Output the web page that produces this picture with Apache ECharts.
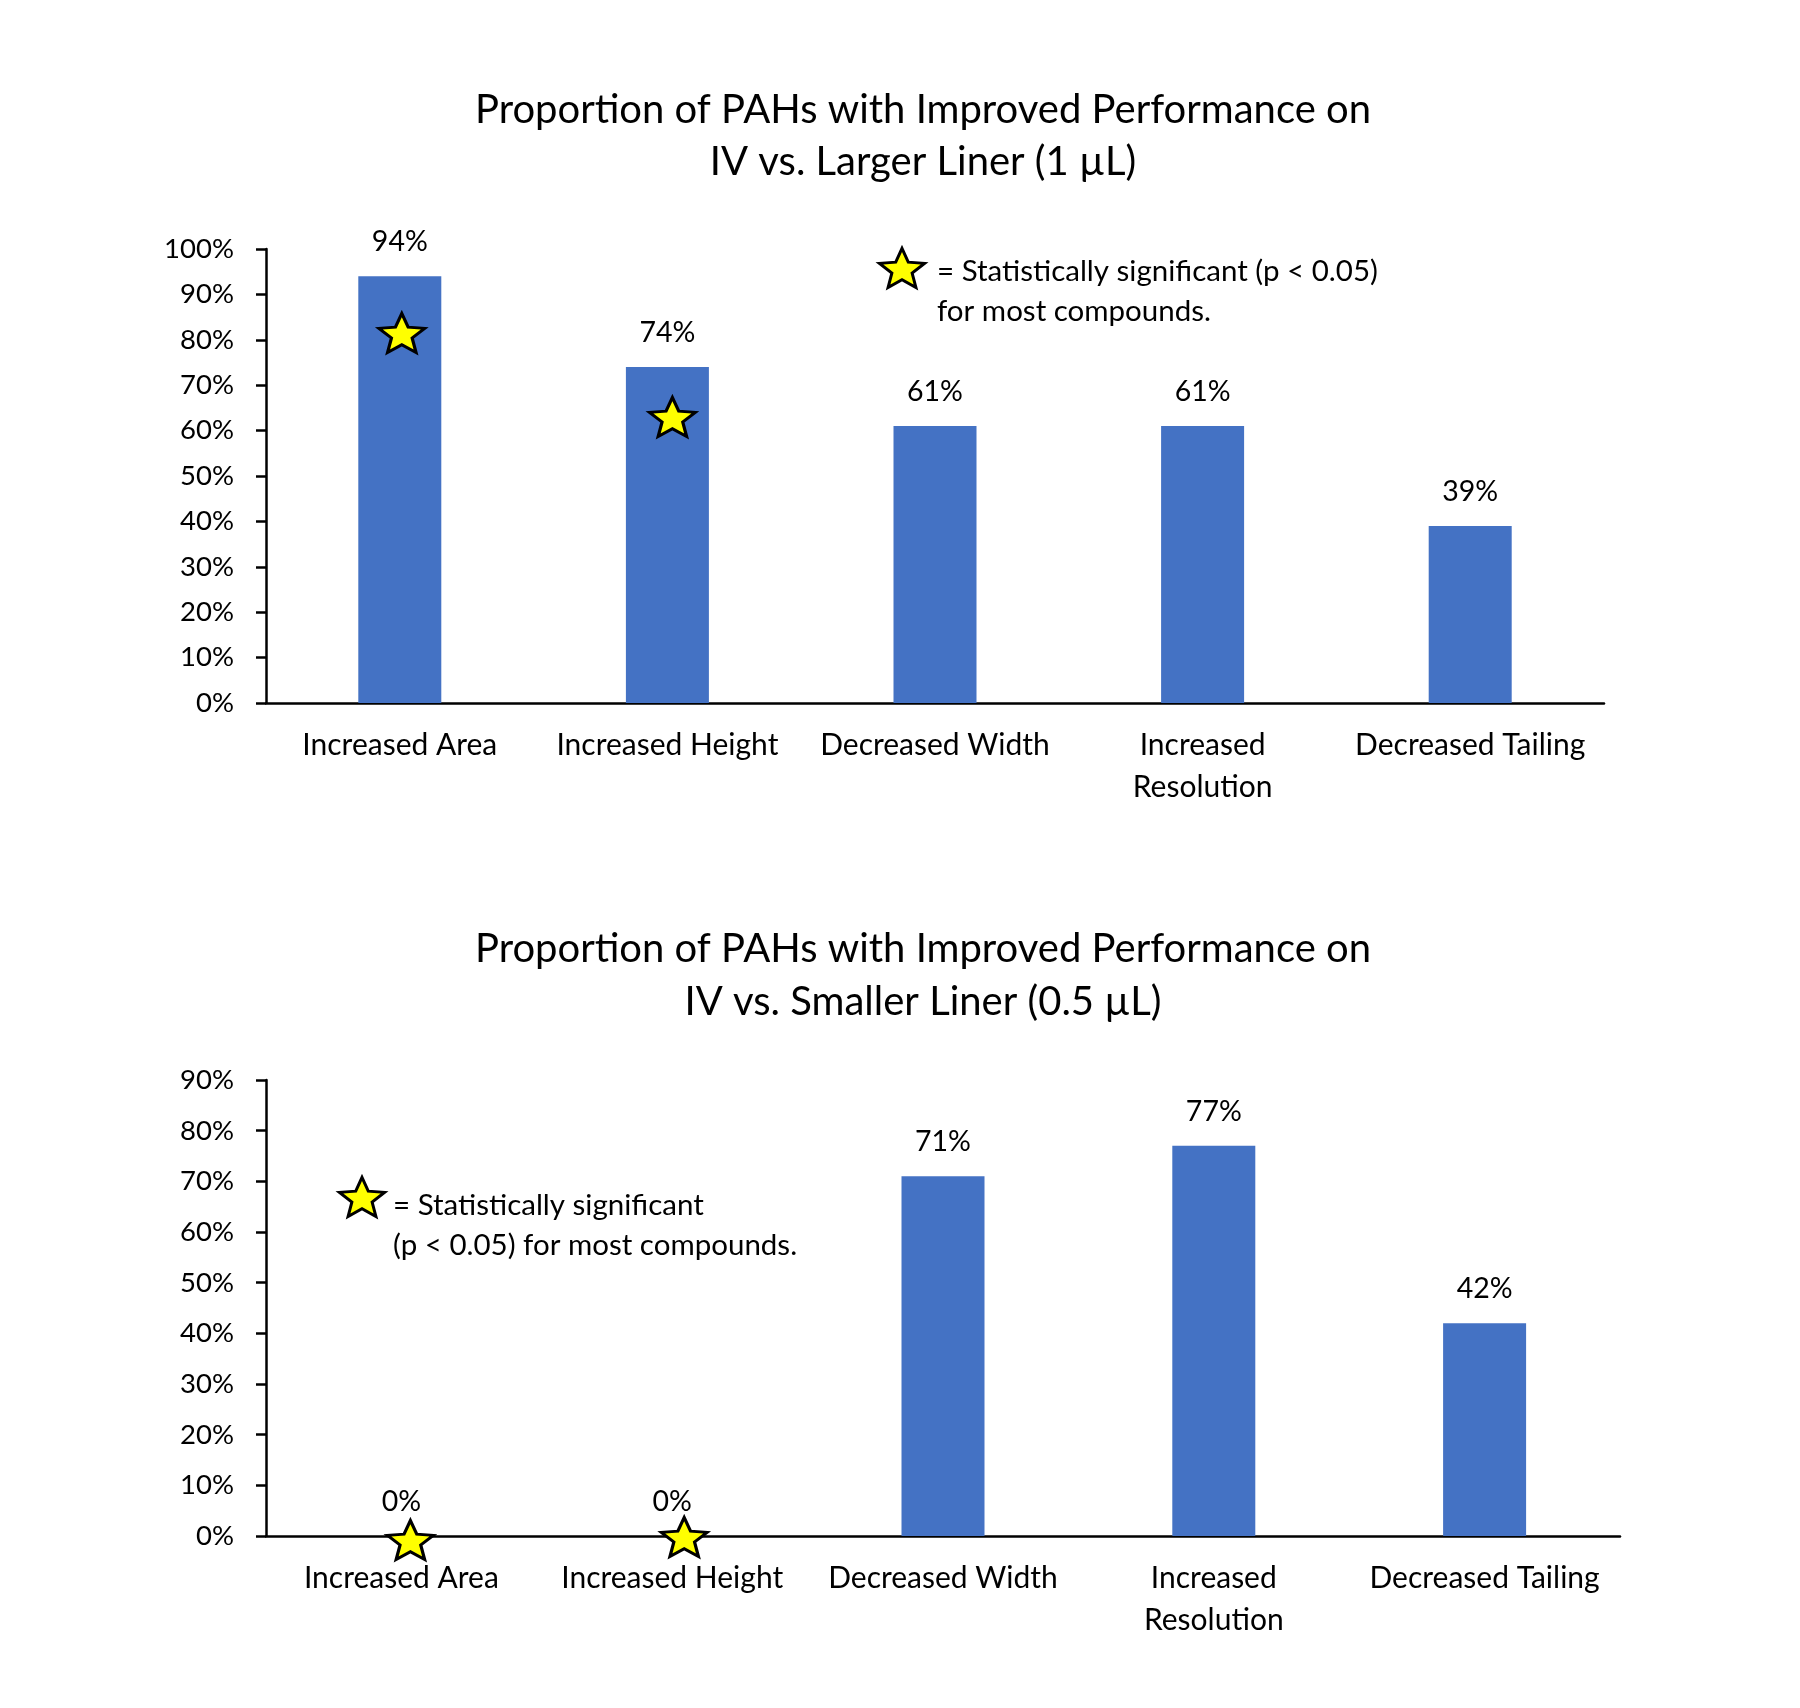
<!DOCTYPE html>
<html>
<head>
<meta charset="utf-8">
<script src="https://cdn.jsdelivr.net/npm/echarts@6/dist/echarts.min.js"></script>
<style>
html,body{margin:0;padding:0;background:#fff;}
#chart{width:1800px;height:1708px;}
</style>
</head>
<body>
<div id="chart"></div>
<script>
// ---- data ----
var categories = ['Increased Area', 'Increased Height', 'Decreased Width', 'Increased\nResolution', 'Decreased Tailing'];
var largerLinerValues = [94, 74, 61, 61, 39];
var smallerLinerValues = [0, 0, 71, 77, 42];
var largerStars = [['Increased Area', 81.5], ['Increased Height', 63]];
var smallerStars = [['Increased Area', 0], ['Increased Height', 0]];
var topTicks = { min: 0, max: 100, interval: 10 };
var bottomTicks = { min: 0, max: 90, interval: 10 };
var titleTop = ['Proportion of PAHs with Improved Performance on', 'IV vs. Larger Liner (1 µL)'];
var titleBottom = ['Proportion of PAHs with Improved Performance on', 'IV vs. Smaller Liner (0.5 µL)'];
var noteTop = ['= Statistically significant (p < 0.05)', 'for most compounds.'];
var noteBottom = ['= Statistically significant', '(p < 0.05) for most compounds.'];

// ---- helpers ----
var FONT = 'Lato';
var INNER = 0.45;
function starPath() {
  var pts = [];
  for (var i = 0; i < 10; i++) {
    var a = (-90 + i * 36) * Math.PI / 180;
    var r = (i % 2 === 0) ? 50 : 50 * INNER;
    pts.push((50 + r * Math.cos(a)).toFixed(2) + ' ' + (50 + r * Math.sin(a)).toFixed(2));
  }
  return 'path://M' + pts.join(' L') + ' Z';
}
function starPoints(cx, cy, w, h) {
  var pts = [];
  for (var i = 0; i < 10; i++) {
    var a = (-90 + i * 36) * Math.PI / 180;
    var r = (i % 2 === 0) ? 1 : INNER;
    pts.push([cx + r * Math.cos(a) * w / 1.902, cy + (r * Math.sin(a) + 0.0475) * h / 1.809]);
  }
  return pts;
}
var STAR = starPath();
var BAR_COLOR = '#4472C4';

function xAxis(gi) {
  return {
    type: 'category', gridIndex: gi, data: categories,
    axisLine: { lineStyle: { color: '#000', width: 2.5 } },
    axisTick: { show: false },
    axisLabel: { color: '#000', fontFamily: FONT, fontSize: 30, margin: 21, lineHeight: 42, interval: 0 }
  };
}
function yAxis(gi, t) {
  return {
    type: 'value', gridIndex: gi, min: t.min, max: t.max, interval: t.interval,
    splitLine: { show: false },
    axisLine: { show: true, lineStyle: { color: '#000', width: 2.5 } },
    axisTick: { show: true, length: 10, lineStyle: { color: '#000', width: 2.5 } },
    axisLabel: { color: '#000', fontFamily: FONT, fontSize: 27.5, margin: 32, formatter: '{value}%' }
  };
}
function barSeries(gi, vals) {
  return {
    type: 'bar', xAxisIndex: gi, yAxisIndex: gi, data: vals, barWidth: 83,
    itemStyle: { color: BAR_COLOR },
    label: { show: true, position: 'top', distance: 20, color: '#000', fontFamily: FONT, fontSize: 28.5, formatter: '{c}%' },
    silent: true
  };
}
function starSeries(gi, pts, offs) {
  return {
    type: 'scatter', xAxisIndex: gi, yAxisIndex: gi, z: 10,
    data: pts.map(function (p, i) { return { value: p, symbolOffset: offs[i] }; }),
    symbol: STAR, symbolSize: [46, 39], symbolKeepAspect: false,
    itemStyle: { color: '#FFFF00', borderColor: '#000', borderWidth: 3, opacity: 1 },
    silent: true
  };
}
function txt(x, y, s, size, align) {
  return { type: 'text', x: x, y: y, style: { text: s, fill: '#000', font: size + 'px ' + FONT, textAlign: align || 'left', textVerticalAlign: 'middle' } };
}
function starGraphic(cx, cy) {
  return { type: 'polygon', shape: { points: starPoints(cx, cy, 45, 39) }, style: { fill: '#FFFF00', stroke: '#000', lineWidth: 3 } };
}

var chart = echarts.init(document.getElementById('chart'), null, { renderer: 'canvas' });
chart.setOption({
  backgroundColor: '#fff',
  animation: false,
  grid: [
    { left: 266, right: 196, top: 249, height: 454 },
    { left: 266, right: 180, top: 1080, height: 456 }
  ],
  xAxis: [xAxis(0), xAxis(1)],
  yAxis: [yAxis(0, topTicks), yAxis(1, bottomTicks)],
  series: [
    barSeries(0, largerLinerValues),
    barSeries(1, smallerLinerValues),
    starSeries(0, largerStars, [[2, 0], [5, 0]]),
    starSeries(1, smallerStars, [[9, 4], [12, 1]])
  ],
  graphic: [
    txt(923, 110, titleTop[0], 40, 'center'),
    txt(923, 162, titleTop[1], 40, 'center'),
    txt(923, 949, titleBottom[0], 40, 'center'),
    txt(923, 1002, titleBottom[1], 40, 'center'),
    starGraphic(902, 269),
    txt(937, 271, noteTop[0], 29.5),
    txt(937, 311, noteTop[1], 29.5),
    starGraphic(362, 1198),
    txt(393, 1205, noteBottom[0], 29.5),
    txt(393, 1245, noteBottom[1], 29.5)
  ]
});
</script>
</body>
</html>
